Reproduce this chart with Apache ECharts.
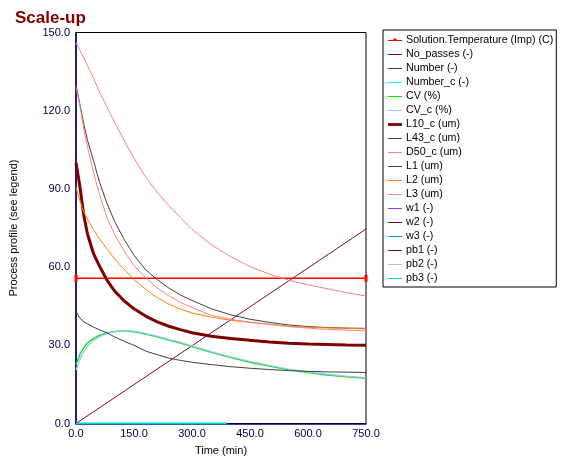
<!DOCTYPE html>
<html>
<head>
<meta charset="utf-8">
<script src="https://cdn.jsdelivr.net/npm/echarts@6/dist/echarts.min.js"></script>
<style>
html,body{margin:0;padding:0;background:#fff;}
#chart{width:566px;height:465px;}
</style>
</head>
<body>
<div id="chart"></div>
<script>
// ---- data ----
const time = [0,10,20,30,45,60,80,100,125,150,180,210,240,270,300,350,400,450,500,550,600,650,700,750];

const tempTime = [0, 750];
const tempValues = [55.7, 55.7];

const noPassesTime = [0, 750];
const noPassesValues = [0, 74.6];

const cvValues   = [22.5,26.5,29,31,32.5,33.8,34.8,35.3,35.5,35.2,34.3,33.2,32,30.8,29.5,27.3,25.3,23.5,22,20.6,19.5,18.6,17.9,17.3];
const cvCValues  = [20.5,24.5,27.5,29.8,31.8,33.2,34.5,35.3,35.6,35.4,34.6,33.5,32.3,31.1,29.8,27.6,25.6,23.8,22.3,20.9,19.8,18.9,18.2,17.6];
const l10cValues = [100,91,80,72.5,65.3,60.6,55,50.8,47,44,41.2,39,37.3,36,34.8,33.5,32.6,31.9,31.3,30.8,30.5,30.3,30.1,30.0];
const l43cValues = [130,122.5,115,108.5,101,93,84.5,77.5,70.5,64.5,59,55.2,52,49.3,47.2,44,41.7,40,38.8,37.8,37.2,36.8,36.6,36.5];
const d50cValues = [146,143.2,140.3,137.2,132.5,127.5,121.5,115.5,108.4,101.8,94.6,88.7,83.6,79,74.5,68.6,64,60.2,57.3,55,53.2,51.7,50.2,48.9];
const l1Values   = [43,40.5,39,38.2,37,36,34.8,33.2,31.5,30,27.8,26.4,25.1,24.2,23.5,22.6,21.8,21.2,20.7,20.3,20.0,19.8,19.7,19.6];
const l2Values   = [90.5,85.5,81.2,78.3,74.5,71,67,63.2,59,55.3,51.5,48.3,45.8,43.9,42.4,40.8,39.6,38.8,38.1,37.3,36.9,36.7,36.5,36.3];
const l3Values   = [129,122,113,106,96.5,88.2,79,72.5,66,60.5,56,52,49,46.5,44.5,41.5,40,38.8,38,37.2,36.6,36.1,35.8,35.5];

const pb3Time = [0, 390];
const pb3Values = [0, 0];

const xTicks = [0, 150, 300, 450, 600, 750];
const yTicks = [0, 30, 60, 90, 120, 150];

// ---- helpers ----
function pairs(xs, ys){ return xs.map((x,i)=>[x, ys[i]]); }
const FONT = 'Liberation Sans, Arial, sans-serif';
const ICON_LINE  = 'path://M0,0L0,0M14,10L14,10M0,4.5L14,4.5L14,5.5L0,5.5Z';
const ICON_THICK = 'path://M0,0L0,0M14,10L14,10M0,3.6L14,3.6L14,6.4L0,6.4Z';
const ICON_TEMP  = 'path://M0,0L0,0M14,10L14,10M0,4.5L14,4.5L14,5.5L0,5.5Z M4,5.2L7,2.4L10,5.2Z';

function lineSeries(name, color, data, width, extra){
  return Object.assign({
    name: name,
    type: 'line',
    data: data,
    showSymbol: false,
    symbol: 'none',
    smooth: false,
    color: color,
    lineStyle: {color: color, width: width || 1},
    emphasis: {disabled: true},
    z: 3
  }, extra || {});
}

const series = [
  lineSeries('Solution.Temperature (Imp) (C)', '#ff0000', pairs(tempTime, tempValues), 1.5, {
    symbol: 'rect', showSymbol: true, symbolSize: [3, 7],
    itemStyle: {color: '#ff0000'}
  }),
  lineSeries('No_passes (-)', '#800040', pairs(noPassesTime, noPassesValues), 1),
  lineSeries('Number (-)', '#404040', [], 1),
  lineSeries('Number_c (-)', '#00ffff', [], 1),
  lineSeries('CV (%)', '#00e800', pairs(time, cvValues), 1.3),
  lineSeries('CV_c (%)', '#a0c4ff', pairs(time, cvCValues), 1.3),
  lineSeries('L10_c (um)', '#800000', pairs(time, l10cValues), 3),
  lineSeries('L43_c (um)', '#404040', pairs(time, l43cValues), 1),
  lineSeries('D50_c (um)', '#ff8080', pairs(time, d50cValues), 1),
  lineSeries('L1 (um)', '#404040', pairs(time, l1Values), 1),
  lineSeries('L2 (um)', '#ff8000', pairs(time, l2Values), 1),
  lineSeries('L3 (um)', '#ff8080', pairs(time, l3Values), 1),
  lineSeries('w1 (-)', '#8040ff', [], 1),
  lineSeries('w2 (-)', '#800040', [], 1),
  lineSeries('w3 (-)', '#00a0a0', [], 1),
  lineSeries('pb1 (-)', '#800080', [], 1),
  lineSeries('pb2 (-)', '#c0c0c0', [], 1),
  lineSeries('pb3 (-)', '#00d0e0', pairs(pb3Time, pb3Values), 2)
];

const legendData = series.map(s => ({
  name: s.name,
  icon: s.name.indexOf('Solution') === 0 ? ICON_TEMP : (s.name === 'L10_c (um)' ? ICON_THICK : ICON_LINE),
  itemStyle: {color: s.color}
}));

const chart = echarts.init(document.getElementById('chart'), null, {renderer: 'canvas'});
chart.setOption({
  animation: false,
  backgroundColor: '#ffffff',
  title: {
    text: 'Scale-up',
    left: 10, top: 5,
    textStyle: {fontFamily: FONT, fontSize: 17, fontWeight: 'bold', color: '#800000'}
  },
  legend: {
    orient: 'vertical',
    left: 383, top: 30,
    padding: [5, 3, 3, 5],
    itemWidth: 14, itemHeight: 10, itemGap: 3,
    borderColor: '#000', borderWidth: 1,
    selectedMode: false,
    itemStyle: {borderWidth: 0},
    lineStyle: {width: 0},
    textStyle: {fontFamily: FONT, fontSize: 10.7, color: '#000', padding: [0,0,0,-1]},
    data: legendData
  },
  grid: {
    left: 76, top: 32.5, width: 290, height: 391,
    show: true, borderColor: '#000', borderWidth: 1, backgroundColor: 'transparent'
  },
  xAxis: {
    type: 'value', min: 0, max: 750, interval: 150,
    name: 'Time (min)', nameLocation: 'middle', nameGap: 22,
    nameTextStyle: {fontFamily: FONT, fontSize: 11, color: '#000'},
    axisLine: {show: true, onZero: false, lineStyle: {color: '#000080', width: 1.5}},
    axisTick: {show: false},
    splitLine: {show: false},
    axisLabel: {
      margin: 5, fontFamily: FONT, fontSize: 11, color: '#000040',
      customValues: xTicks,
      formatter: v => v.toFixed(1)
    }
  },
  yAxis: {
    type: 'value', min: 0, max: 150, interval: 30,
    name: 'Process profile (see legend)', nameLocation: 'middle', nameGap: 57,
    nameTextStyle: {fontFamily: FONT, fontSize: 11, color: '#000'},
    axisLine: {show: true, onZero: false, lineStyle: {color: '#000080', width: 1.5}},
    axisTick: {show: false},
    splitLine: {show: false},
    axisLabel: {
      margin: 6, fontFamily: FONT, fontSize: 11, color: '#000040',
      customValues: yTicks,
      formatter: v => v.toFixed(1)
    }
  },
  series: series
});
</script>
</body>
</html>
